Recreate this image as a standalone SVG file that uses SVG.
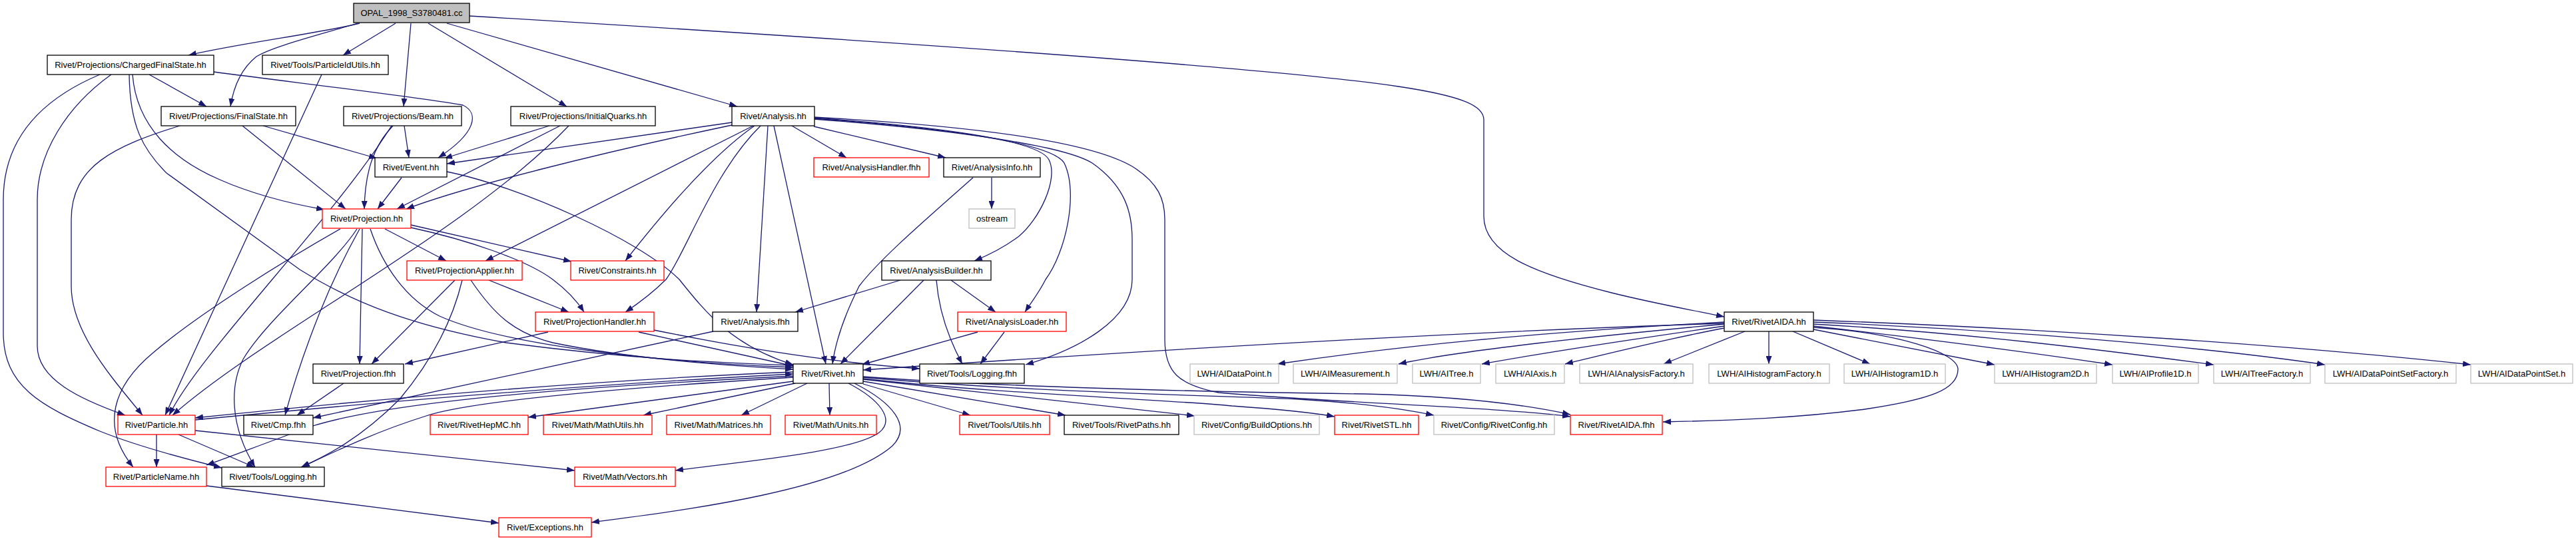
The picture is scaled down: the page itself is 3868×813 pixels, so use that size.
<svg xmlns="http://www.w3.org/2000/svg" width="3868" height="813" viewBox="0 0 3868 813">
<defs>
<marker id="a" viewBox="0 0 12 9" refX="12" refY="4.5" markerWidth="12" markerHeight="9" markerUnits="userSpaceOnUse" orient="auto" preserveAspectRatio="none"><path d="M0,0 L12,4.5 L0,9 z" fill="#191970"/></marker>
<style>
rect{fill:#fff;stroke:#000;stroke-width:1.3}
.r rect{stroke:#ff0000}
.g rect{stroke:#bfbfbf}
.root rect{fill:#bfbfbf}
text{font-family:"Liberation Sans",Arial,Helvetica,sans-serif;font-size:13px;text-anchor:middle;fill:#000}
.e path{fill:none;stroke:#191970;stroke-width:1.3;marker-end:url(#a)}
</style>
</defs>
<rect x="0" y="0" width="3868" height="813" style="fill:#fff;stroke:none"/>
<g id="edges" class="e">
<path d="M540,35 C480,50 360,65 283,83"/>
<path d="M537,35 C470,55 410,70 385,85 C360,105 350,135 346,160"/>
<path d="M594,35 L515,83"/>
<path d="M617,35 L606,160"/>
<path d="M643,35 L851,160"/>
<path d="M671,35 L1107,160"/>
<path d="M705,24 C1300,60 1900,100 2100,130 C2200,145 2228,160 2228,180 L2228,325 C2228,380 2300,410 2420,440 C2480,455 2540,466 2589,476"/>
<path d="M224,112 L310,160"/>
<path d="M321,108 C450,125 620,145 695,158 C720,170 715,200 658,237"/>
<path d="M199,112 C205,190 260,240 330,270 C380,292 430,305 487,315"/>
<path d="M194,112 C195,190 215,225 250,260 L450,405 C530,455 620,490 760,515 C950,540 1080,545 1191,549"/>
<path d="M167,112 C100,160 56,230 56,300 L56,520 C56,570 120,600 188,624"/>
<path d="M150,112 C60,150 5,210 5,300 L5,500 C5,580 60,610 150,648 C210,672 280,690 333,703"/>
<path d="M483,112 L248,624"/>
<path d="M270,189 C170,220 107,250 107,330 L107,430 C107,500 170,570 214,624"/>
<path d="M364,189 L519,314"/>
<path d="M395,189 L566,238"/>
<path d="M607,189 L614,237"/>
<path d="M590,189 C560,220 548,260 547,314"/>
<path d="M588,189 C500,330 300,530 254,624"/>
<path d="M603,267 L567,314"/>
<path d="M671,258 C780,280 960,360 1020,420 C1060,470 1100,520 1191,548"/>
<path d="M825,189 L667,238"/>
<path d="M841,189 L596,314"/>
<path d="M854,189 C700,350 400,500 259,624"/>
<path d="M1099,184 L671,246"/>
<path d="M1099,188 C900,230 700,280 610,314"/>
<path d="M1131,189 L729,392"/>
<path d="M1133,189 C1060,240 980,340 939,392"/>
<path d="M1142,189 C1070,260 1030,380 1000,420 C980,440 960,455 939,469"/>
<path d="M1153,189 L1136,469"/>
<path d="M1162,189 L1240,547"/>
<path d="M1189,189 L1271,237"/>
<path d="M1222,190 L1420,237"/>
<path d="M1222,177 C1400,190 1560,210 1575,240 C1590,270 1560,330 1530,355 C1510,370 1485,383 1463,392"/>
<path d="M1222,178 C1420,192 1580,215 1598,245 C1620,290 1600,380 1570,420 C1560,440 1548,455 1539,469"/>
<path d="M1222,179 C1440,195 1600,220 1640,245 C1690,280 1700,320 1700,360 L1700,420 C1700,480 1620,525 1540,548"/>
<path d="M1222,176 C1480,190 1640,215 1700,250 C1740,275 1749,300 1749,330 L1749,510 C1749,560 1770,578 1830,590 C2000,605 2250,612 2358,626"/>
<path d="M1489,267 L1489,314"/>
<path d="M1461,267 C1390,330 1320,390 1290,430 C1270,470 1255,510 1250,547"/>
<path d="M1352,421 L1194,469"/>
<path d="M1387,421 L1262,547"/>
<path d="M1406,421 C1410,470 1425,510 1445,547"/>
<path d="M1428,421 L1495,469"/>
<path d="M1468,499 L1294,548"/>
<path d="M1508,499 L1472,547"/>
<path d="M578,344 L670,392"/>
<path d="M617,338 L858,393"/>
<path d="M617,342 C700,360 790,390 830,420 C850,435 865,450 877,469"/>
<path d="M544,344 L540,547"/>
<path d="M540,344 C520,380 500,420 480,470 C460,520 440,580 428,624"/>
<path d="M511,344 C430,390 300,470 230,530 C170,580 150,640 200,702"/>
<path d="M536,344 C500,400 400,480 365,540 C345,580 345,640 383,702"/>
<path d="M556,344 C575,400 610,450 660,475 C760,520 1000,545 1191,552"/>
<path d="M734,421 L854,469"/>
<path d="M707,421 C740,470 770,500 830,515 C950,540 1100,550 1191,555"/>
<path d="M683,421 L558,547"/>
<path d="M694,421 C680,480 650,540 600,600 C540,660 490,685 452,702"/>
<path d="M823,499 L608,547"/>
<path d="M959,499 L1191,550"/>
<path d="M982,496 C1100,520 1250,545 1381,554"/>
<path d="M1071,498 L470,628"/>
<path d="M235,653 L235,702"/>
<path d="M268,653 L382,702"/>
<path d="M293,647 C500,670 700,690 863,707"/>
<path d="M293,631 C600,601 900,577 1191,562"/>
<path d="M1191,559 C900,571 600,596 293,628"/>
<path d="M1191,565 C900,580 600,600 470,640 C400,665 350,685 310,699"/>
<path d="M1191,567 C900,585 700,605 640,625 C560,650 500,680 453,702"/>
<path d="M516,576 L446,624"/>
<path d="M310,730 L749,786"/>
<path d="M1191,573 L793,627"/>
<path d="M1194,576 L966,624"/>
<path d="M1212,576 L1113,624"/>
<path d="M1245,576 L1246,624"/>
<path d="M1274,576 C1320,600 1345,630 1320,650 C1280,680 1100,695 1014,707"/>
<path d="M1283,576 C1340,605 1370,640 1340,670 C1260,740 1000,770 888,785"/>
<path d="M1296,577 L1457,624"/>
<path d="M1296,573 L1600,624"/>
<path d="M1296,570 L1794,625"/>
<path d="M1296,569 C1500,592 1750,600 1850,610 C1920,615 1970,620 2004,626"/>
<path d="M1296,567 C1550,590 1850,595 1950,600 C2050,606 2110,615 2153,624"/>
<path d="M1296,566 C1550,585 1900,590 2050,592 C2200,596 2300,610 2358,623"/>
<path d="M2589,486 C2200,498 1700,528 1296,556"/>
<path d="M2589,484 C2300,500 2100,520 1918,547"/>
<path d="M2589,487 C2400,505 2200,525 2100,547"/>
<path d="M2589,490 C2450,510 2320,530 2225,547"/>
<path d="M2589,493 C2500,510 2420,530 2350,547"/>
<path d="M2620,498 L2498,547"/>
<path d="M2656,498 L2656,547"/>
<path d="M2692,498 L2808,547"/>
<path d="M2723,495 L2995,548"/>
<path d="M2723,490 C2900,510 3050,530 3172,548"/>
<path d="M2723,487 C2950,500 3150,525 3324,548"/>
<path d="M2723,484 C3000,495 3300,520 3491,548"/>
<path d="M2723,481 C3100,495 3450,520 3710,548"/>
<path d="M2723,492 C2850,500 2940,530 2940,555 C2940,585 2900,600 2800,615 C2700,628 2600,632 2497,634"/>
</g>
<g id="n0" class="root"><rect x="531" y="5" width="174" height="29"/><text x="618" y="24">OPAL_1998_S3780481.cc</text></g>
<g id="n1"><rect x="71" y="83" width="250" height="29"/><text x="196" y="102">Rivet/Projections/ChargedFinalState.hh</text></g>
<g id="n2"><rect x="394" y="83" width="189" height="29"/><text x="488.5" y="102">Rivet/Tools/ParticleIdUtils.hh</text></g>
<g id="n3"><rect x="242" y="160" width="202" height="29"/><text x="343" y="179">Rivet/Projections/FinalState.hh</text></g>
<g id="n4"><rect x="516" y="160" width="177" height="29"/><text x="604.5" y="179">Rivet/Projections/Beam.hh</text></g>
<g id="n5"><rect x="767" y="160" width="217" height="29"/><text x="875.5" y="179">Rivet/Projections/InitialQuarks.hh</text></g>
<g id="n6"><rect x="1099" y="160" width="124" height="29"/><text x="1161" y="179">Rivet/Analysis.hh</text></g>
<g id="n7"><rect x="563" y="237" width="108" height="29"/><text x="617" y="256">Rivet/Event.hh</text></g>
<g id="n8" class="r"><rect x="1222" y="237" width="173" height="29"/><text x="1308.5" y="256">Rivet/AnalysisHandler.fhh</text></g>
<g id="n9"><rect x="1417" y="237" width="145" height="29"/><text x="1489.5" y="256">Rivet/AnalysisInfo.hh</text></g>
<g id="n10" class="r"><rect x="484" y="314" width="133" height="29"/><text x="550.5" y="333">Rivet/Projection.hh</text></g>
<g id="n11" class="g"><rect x="1455" y="314" width="69" height="29"/><text x="1489.5" y="333">ostream</text></g>
<g id="n12" class="r"><rect x="611" y="392" width="173" height="29"/><text x="697.5" y="411">Rivet/ProjectionApplier.hh</text></g>
<g id="n13" class="r"><rect x="857" y="392" width="140" height="29"/><text x="927" y="411">Rivet/Constraints.hh</text></g>
<g id="n14"><rect x="1324" y="392" width="164" height="29"/><text x="1406" y="411">Rivet/AnalysisBuilder.hh</text></g>
<g id="n15" class="r"><rect x="804" y="469" width="178" height="29"/><text x="893" y="488">Rivet/ProjectionHandler.hh</text></g>
<g id="n16"><rect x="1070" y="469" width="128" height="29"/><text x="1134" y="488">Rivet/Analysis.fhh</text></g>
<g id="n17" class="r"><rect x="1438" y="469" width="163" height="29"/><text x="1519.5" y="488">Rivet/AnalysisLoader.hh</text></g>
<g id="n18"><rect x="2589" y="469" width="134" height="29"/><text x="2656" y="488">Rivet/RivetAIDA.hh</text></g>
<g id="n19"><rect x="470" y="547" width="136" height="29"/><text x="538" y="566">Rivet/Projection.fhh</text></g>
<g id="n20"><rect x="1191" y="547" width="105" height="29"/><text x="1243.5" y="566">Rivet/Rivet.hh</text></g>
<g id="n21"><rect x="1381" y="547" width="157" height="29"/><text x="1459.5" y="566">Rivet/Tools/Logging.fhh</text></g>
<g id="n22" class="g"><rect x="1787" y="547" width="133" height="29"/><text x="1853.5" y="566">LWH/AIDataPoint.h</text></g>
<g id="n23" class="g"><rect x="1942" y="547" width="156" height="29"/><text x="2020" y="566">LWH/AIMeasurement.h</text></g>
<g id="n24" class="g"><rect x="2121" y="547" width="102" height="29"/><text x="2172" y="566">LWH/AITree.h</text></g>
<g id="n25" class="g"><rect x="2246" y="547" width="103" height="29"/><text x="2297.5" y="566">LWH/AIAxis.h</text></g>
<g id="n26" class="g"><rect x="2372" y="547" width="170" height="29"/><text x="2457" y="566">LWH/AIAnalysisFactory.h</text></g>
<g id="n27" class="g"><rect x="2566" y="547" width="181" height="29"/><text x="2656.5" y="566">LWH/AIHistogramFactory.h</text></g>
<g id="n28" class="g"><rect x="2769" y="547" width="152" height="29"/><text x="2845" y="566">LWH/AIHistogram1D.h</text></g>
<g id="n29" class="g"><rect x="2995" y="547" width="153" height="29"/><text x="3071.5" y="566">LWH/AIHistogram2D.h</text></g>
<g id="n30" class="g"><rect x="3172" y="547" width="129" height="29"/><text x="3236.5" y="566">LWH/AIProfile1D.h</text></g>
<g id="n31" class="g"><rect x="3324" y="547" width="145" height="29"/><text x="3396.5" y="566">LWH/AITreeFactory.h</text></g>
<g id="n32" class="g"><rect x="3491" y="547" width="197" height="29"/><text x="3589.5" y="566">LWH/AIDataPointSetFactory.h</text></g>
<g id="n33" class="g"><rect x="3710" y="547" width="153" height="29"/><text x="3786.5" y="566">LWH/AIDataPointSet.h</text></g>
<g id="n34" class="r"><rect x="177" y="624" width="116" height="29"/><text x="235" y="643">Rivet/Particle.hh</text></g>
<g id="n35"><rect x="366" y="624" width="104" height="29"/><text x="418" y="643">Rivet/Cmp.fhh</text></g>
<g id="n36" class="r"><rect x="646" y="624" width="147" height="29"/><text x="719.5" y="643">Rivet/RivetHepMC.hh</text></g>
<g id="n37" class="r"><rect x="816" y="624" width="163" height="29"/><text x="897.5" y="643">Rivet/Math/MathUtils.hh</text></g>
<g id="n38" class="r"><rect x="1001" y="624" width="156" height="29"/><text x="1079" y="643">Rivet/Math/Matrices.hh</text></g>
<g id="n39" class="r"><rect x="1179" y="624" width="137" height="29"/><text x="1247.5" y="643">Rivet/Math/Units.hh</text></g>
<g id="n40" class="r"><rect x="1441" y="624" width="135" height="29"/><text x="1508.5" y="643">Rivet/Tools/Utils.hh</text></g>
<g id="n41"><rect x="1598" y="624" width="172" height="29"/><text x="1684" y="643">Rivet/Tools/RivetPaths.hh</text></g>
<g id="n42" class="g"><rect x="1793" y="624" width="188" height="29"/><text x="1887" y="643">Rivet/Config/BuildOptions.hh</text></g>
<g id="n43" class="r"><rect x="2004" y="624" width="126" height="29"/><text x="2067" y="643">Rivet/RivetSTL.hh</text></g>
<g id="n44" class="g"><rect x="2153" y="624" width="181" height="29"/><text x="2243.5" y="643">Rivet/Config/RivetConfig.hh</text></g>
<g id="n45" class="r"><rect x="2358" y="624" width="138" height="29"/><text x="2427" y="643">Rivet/RivetAIDA.fhh</text></g>
<g id="n46" class="r"><rect x="159" y="702" width="151" height="29"/><text x="234.5" y="721">Rivet/ParticleName.hh</text></g>
<g id="n47"><rect x="333" y="702" width="154" height="29"/><text x="410" y="721">Rivet/Tools/Logging.hh</text></g>
<g id="n48" class="r"><rect x="863" y="702" width="151" height="29"/><text x="938.5" y="721">Rivet/Math/Vectors.hh</text></g>
<g id="n49" class="r"><rect x="749" y="778" width="139" height="29"/><text x="818.5" y="797">Rivet/Exceptions.hh</text></g>
</svg>
